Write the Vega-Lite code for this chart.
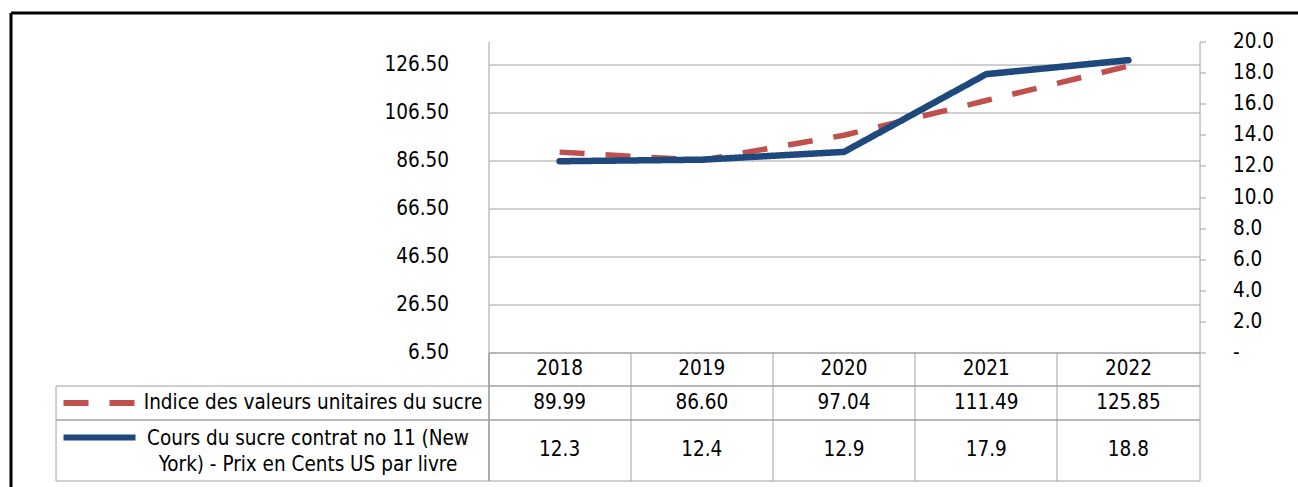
{
  "$schema": "https://vega.github.io/schema/vega-lite/v6.json",
  "autosize": {"type": "pad"},
  "padding": {"left": 8.5, "top": 10.5, "right": 0, "bottom": 0},
  "background": "white",
  "config": {
    "font": "DejaVu Sans Condensed, DejaVu Sans",
    "view": {"stroke": null},
    "axis": {"labelFont": "DejaVu Sans Condensed, DejaVu Sans", "labelFontSize": 20.5, "labelColor": "#000000"},
    "text": {"font": "DejaVu Sans Condensed, DejaVu Sans", "fontSize": 20.5, "color": "#000000"}
  },
  "data": {"values": [
    {"year": 2018, "series": "Indice des valeurs unitaires du sucre", "value": 89.99},
    {"year": 2019, "series": "Indice des valeurs unitaires du sucre", "value": 86.60},
    {"year": 2020, "series": "Indice des valeurs unitaires du sucre", "value": 97.04},
    {"year": 2021, "series": "Indice des valeurs unitaires du sucre", "value": 111.49},
    {"year": 2022, "series": "Indice des valeurs unitaires du sucre", "value": 125.85},
    {"year": 2018, "series": "Cours du sucre contrat no 11 (New York) - Prix en Cents US par livre", "value": 12.3},
    {"year": 2019, "series": "Cours du sucre contrat no 11 (New York) - Prix en Cents US par livre", "value": 12.4},
    {"year": 2020, "series": "Cours du sucre contrat no 11 (New York) - Prix en Cents US par livre", "value": 12.9},
    {"year": 2021, "series": "Cours du sucre contrat no 11 (New York) - Prix en Cents US par livre", "value": 17.9},
    {"year": 2022, "series": "Cours du sucre contrat no 11 (New York) - Prix en Cents US par livre", "value": 18.8}
  ]},
  "spacing": 0,
  "bounds": "flush",
  "vconcat": [
    {
      "width": 711,
      "height": 311,
      "layer": [
        {
          "transform": [{"filter": "datum.series === 'Indice des valeurs unitaires du sucre'"}],
          "mark": {"type": "line", "strokeWidth": 5.5, "strokeJoin": "round"},
          "encoding": {
            "x": {
              "field": "year", "type": "quantitative",
              "scale": {"domain": [2017.5, 2023.2032], "range": [0, 811], "nice": false, "zero": false},
              "axis": {"orient": "top", "offset": 29, "values": [2017.5], "domain": true, "domainColor": "#000000", "domainWidth": 3, "ticks": false, "labels": false, "grid": true, "gridColor": "#a0a0a0", "gridWidth": 1, "gridDash": [0, 21, 439, 1000], "title": null}
            },
            "y": {
              "field": "value", "type": "quantitative",
              "scale": {"domain": [-55.583, 148.167], "range": [460, -29], "nice": false, "zero": false},
              "axis": {"orient": "left", "offset": 478, "values": [6.5, 26.5, 46.5, 66.5, 86.5, 106.5, 126.5, 148.166],
                       "labelExpr": "datum.value > 140 ? '' : format(datum.value, '.2f')",
                       "domain": true, "domainColor": "#000000", "domainWidth": 3,
                       "ticks": true, "tickSize": -478, "tickWidth": 3,
                       "tickColor": {"condition": {"test": "datum.value > 140", "value": "#000000"}, "value": "transparent"},
                       "labelPadding": 40, "labelAlign": "right", "labelBaseline": "middle",
                       "grid": true, "gridWidth": 1, "gridDash": [711, 1000],
                       "gridColor": {"condition": {"test": "datum.value > 140", "value": "transparent"}, "value": "#a0a0a0"},
                       "title": null}
            },
            "color": {
              "field": "series", "type": "nominal",
              "scale": {"domain": ["Indice des valeurs unitaires du sucre", "Cours du sucre contrat no 11 (New York) - Prix en Cents US par livre"], "range": ["#C0504D", "#1F497D"]},
              "legend": {"orient": "none", "legendX": -428, "legendY": 351.5, "title": null, "labelExpr": "''", "symbolType": "stroke", "symbolSize": 5184, "symbolStrokeWidth": 6, "clipHeight": 20, "rowPadding": 14.5, "padding": 0, "direction": "vertical"}
            },
            "strokeDash": {
              "field": "series", "type": "nominal",
              "scale": {"domain": ["Indice des valeurs unitaires du sucre", "Cours du sucre contrat no 11 (New York) - Prix en Cents US par livre"], "range": [[25, 21], [1, 0]]},
              "legend": {"orient": "none", "legendX": -428, "legendY": 351.5, "title": null, "labelExpr": "''", "symbolType": "stroke", "symbolSize": 5184, "symbolStrokeWidth": 6, "clipHeight": 20, "rowPadding": 14.5, "padding": 0, "direction": "vertical"}
            }
          }
        },
        {
          "transform": [{"filter": "datum.series === 'Cours du sucre contrat no 11 (New York) - Prix en Cents US par livre'"}],
          "mark": {"type": "line", "strokeWidth": 6.5, "strokeJoin": "round", "strokeCap": "round"},
          "encoding": {
            "x": {"field": "year", "type": "quantitative"},
            "y": {
              "field": "value", "type": "quantitative",
              "scale": {"domain": [0, 20], "nice": false, "zero": true},
              "axis": {"orient": "right", "values": [0, 2, 4, 6, 8, 10, 12, 14, 16, 18, 20], "labelExpr": "datum.value === 0 ? '-' : format(datum.value, '.1f')", "domain": true, "domainColor": "#a0a0a0", "ticks": true, "tickSize": 6, "tickColor": "#a0a0a0", "labelPadding": 27, "labelAlign": "left", "labelBaseline": "middle", "grid": false, "title": null}
            },
            "color": {"field": "series", "type": "nominal"},
            "strokeDash": {"field": "series", "type": "nominal"}
          }
        }
      ],
      "resolve": {"scale": {"y": "independent"}, "axis": {"y": "independent"}}
    },
    {
      "width": 711,
      "height": 33,
      "view": {"stroke": "#a0a0a0"},
      "transform": [{"filter": "datum.series === 'Indice des valeurs unitaires du sucre'"}],
      "mark": {"type": "text", "baseline": "middle"},
      "encoding": {
        "x": {"field": "year", "type": "ordinal", "bandPosition": 0.5, "scale": {"type": "band", "paddingInner": 0, "paddingOuter": 0},
              "axis": {"orient": "bottom", "bandPosition": 0, "grid": true, "gridColor": "#a0a0a0", "domain": false, "ticks": false, "labels": false, "title": null}},
        "text": {"field": "year", "type": "ordinal"}
      }
    },
    {
      "width": 711,
      "height": 34,
      "view": {"stroke": "#a0a0a0"},
      "transform": [{"filter": "datum.series === 'Indice des valeurs unitaires du sucre'"}],
      "mark": {"type": "text", "baseline": "middle"},
      "encoding": {
        "x": {"field": "year", "type": "ordinal", "bandPosition": 0.5, "scale": {"type": "band", "paddingInner": 0, "paddingOuter": 0},
              "axis": {"orient": "bottom", "bandPosition": 0, "grid": true, "gridColor": "#a0a0a0", "domain": false, "ticks": false, "labels": false, "title": null}},
        "y": {"field": "series", "type": "nominal", "bandPosition": 0.5, "scale": {"type": "band", "paddingInner": 0, "paddingOuter": 0},
              "axis": {"orient": "left", "offset": 433, "tickBand": "extent", "tickSize": -433, "tickColor": "#a0a0a0", "domainColor": "#a0a0a0", "labelPadding": 176, "labelAlign": "center", "labelBaseline": "middle", "labelLimit": 600, "grid": false, "title": null}},
        "text": {"field": "value", "type": "quantitative", "format": ".2f"}
      }
    },
    {
      "width": 711,
      "height": 61,
      "view": {"stroke": "#a0a0a0"},
      "transform": [{"filter": "datum.series === 'Cours du sucre contrat no 11 (New York) - Prix en Cents US par livre'"}],
      "mark": {"type": "text", "baseline": "middle"},
      "encoding": {
        "x": {"field": "year", "type": "ordinal", "bandPosition": 0.5, "scale": {"type": "band", "paddingInner": 0, "paddingOuter": 0},
              "axis": {"orient": "bottom", "bandPosition": 0, "grid": true, "gridColor": "#a0a0a0", "domain": false, "ticks": false, "labels": false, "title": null}},
        "y": {"field": "series", "type": "nominal", "bandPosition": 0.5, "scale": {"type": "band", "paddingInner": 0, "paddingOuter": 0},
              "axis": {"orient": "left", "offset": 433, "tickBand": "extent", "tickSize": -433, "tickColor": "#a0a0a0", "domainColor": "#a0a0a0", "labelPadding": 181, "labelAlign": "center", "labelBaseline": "middle", "labelOffset": -12, "labelLimit": 600, "labelLineHeight": 26, "labelExpr": "split(replace(datum.label, '(New York)', '(New~York)'), '~')", "grid": false, "title": null}},
        "text": {"field": "value", "type": "quantitative", "format": ".1f"}
      }
    }
  ]
}
